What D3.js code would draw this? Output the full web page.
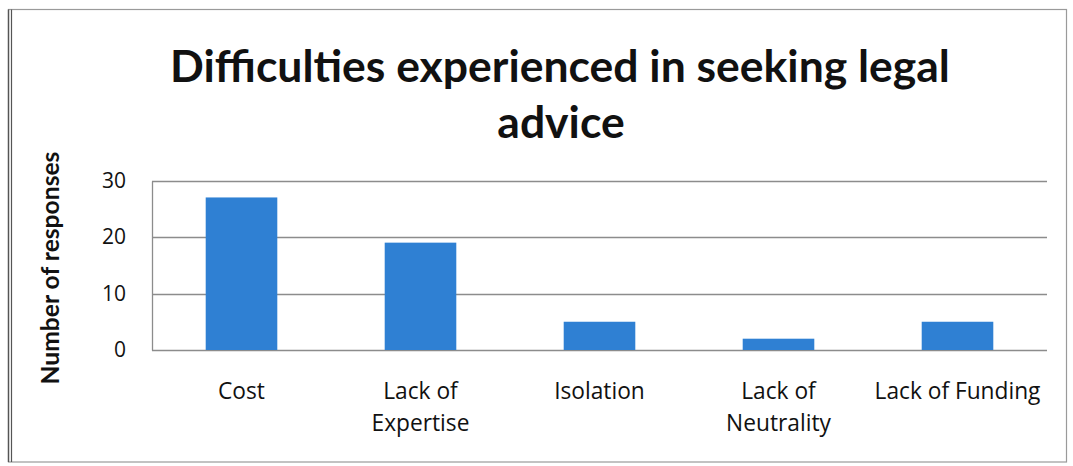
<!DOCTYPE html>
<html>
<head>
<meta charset="utf-8">
<script src="https://cdn.jsdelivr.net/npm/d3@7"></script>
<style>
  html, body { margin: 0; padding: 0; background: #fff; }
  svg { display: block; }
  text { font-family: Lato, "Open Sans", "DejaVu Sans", sans-serif; fill: #111; }
</style>
</head>
<body>
<svg id="chart" width="1073" height="466"></svg>
<script>
// Survey responses per difficulty
const categories = ["Cost", "Lack of\nExpertise", "Isolation", "Lack of\nNeutrality", "Lack of Funding"];
const responses = [27, 19, 5, 2, 5];
const yTicks = [0, 10, 20, 30];
const titleLines = ["Difficulties experienced in seeking legal", "advice"];
const yTitle = "Number of responses";

const svg = d3.select("#chart");
const plot = { left: 152, right: 1047, top: 180.5, bottom: 350 };
const labelFont = "'Open Sans', Lato, sans-serif";

// frame around the chart
svg.append("rect").attr("x", 8.5).attr("y", 9.5).attr("width", 1058).attr("height", 452.5)
  .attr("fill", "none").attr("stroke", "#9a9a9a").attr("stroke-width", 1.2);
svg.append("line").attr("x1", 11.5).attr("x2", 11.5).attr("y1", 9.5).attr("y2", 462)
  .attr("stroke", "#555").attr("stroke-width", 1.2);
svg.append("line").attr("x1", 8.5).attr("x2", 8.5).attr("y1", 9.5).attr("y2", 462)
  .attr("stroke", "#555").attr("stroke-width", 1.4);

const x = d3.scaleBand().domain(categories).range([plot.left, plot.right])
  .paddingInner(0.6).paddingOuter(0.3);
const y = d3.scaleLinear().domain([0, 30]).range([plot.bottom, plot.top]);

// gridlines
svg.append("g").selectAll("line").data(yTicks).join("line")
  .attr("x1", plot.left).attr("x2", plot.right)
  .attr("y1", d => Math.round(y(d)) + 0.5).attr("y2", d => Math.round(y(d)) + 0.5)
  .attr("stroke", "#8c8c8c").attr("stroke-width", 1.3);
svg.append("line").attr("x1", plot.left + 0.5).attr("x2", plot.left + 0.5)
  .attr("y1", Math.round(y(30)) + 0.5).attr("y2", Math.round(y(0)) + 0.5)
  .attr("stroke", "#8c8c8c").attr("stroke-width", 1.3);

// y axis labels
const yAxis = d3.axisLeft(y).tickValues(yTicks).tickSize(0).tickPadding(26);
const gy = svg.append("g").attr("transform", `translate(${plot.left},0)`).call(yAxis);
gy.select(".domain").remove();
gy.selectAll("text").style("font-size", "21px").attr("fill", "#111")
  .style("font-family", labelFont);

// bars
svg.append("g").selectAll("rect").data(categories).join("rect")
  .attr("x", d => x(d))
  .attr("width", x.bandwidth())
  .attr("y", (d, i) => y(responses[i]))
  .attr("height", (d, i) => y(0) - y(responses[i]))
  .attr("fill", "#2f80d3");

// category labels, sized so the longest single line spans ~166px
const probe = svg.append("text").style("font-family", labelFont).style("font-size", "20px")
  .text(categories[categories.length - 1]);
const labelSize = 20 * 166 / probe.node().getComputedTextLength();
probe.remove();
const labels = svg.append("g").selectAll("text").data(categories).join("text")
  .attr("text-anchor", "middle")
  .attr("x", d => x(d) + x.bandwidth() / 2)
  .style("font-size", labelSize + "px").style("font-family", labelFont);
labels.each(function(d) {
  const t = d3.select(this);
  d.split("\n").forEach((ln, i) => {
    t.append("tspan").attr("x", x(d) + x.bandwidth() / 2)
      .attr("y", 399 + i * 32).text(ln);
  });
});

// title, sized to span its measured width
const title = svg.append("g");
const t1 = title.append("text").attr("x", 560).attr("y", 82).attr("text-anchor", "middle")
  .style("font-weight", "bold").style("font-size", "40px").text(titleLines[0]);
const w1 = t1.node().getComputedTextLength();
const fs = 40 * 780 / w1;
t1.style("font-size", fs + "px");
title.append("text").attr("x", 561).attr("y", 138).attr("text-anchor", "middle")
  .style("font-weight", "bold").style("font-size", fs + "px").text(titleLines[1]);

// y axis title
const yt = svg.append("text").attr("transform", "translate(59,268) rotate(-90)")
  .attr("text-anchor", "middle").style("font-weight", "bold").style("font-size", "20px")
  .text(yTitle);
const wy = yt.node().getComputedTextLength();
yt.style("font-size", (20 * 233 / wy) + "px");
</script>
</body>
</html>
